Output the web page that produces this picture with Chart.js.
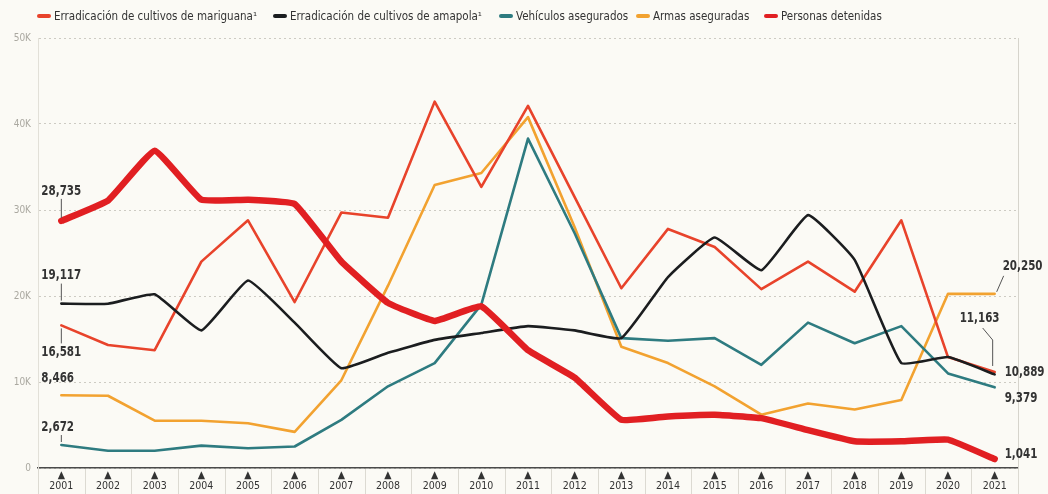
<!DOCTYPE html>
<html>
<head>
<meta charset="utf-8">
<script src="https://cdn.jsdelivr.net/npm/chart.js@4.4.1/dist/chart.umd.min.js"></script>
<style>
  html, body { margin: 0; padding: 0; background: #fbfaf5; }
  #wrap { position: relative; width: 1048px; height: 494px; }
  #legend {
    position: absolute; left: 0; top: 9px; width: 1048px; height: 14px;
    font: 11.5px "DejaVu Sans Condensed", sans-serif; color: #333;
  }
  .item { position: absolute; top: 0; display: flex; align-items: center; white-space: nowrap; }
  .item i { display: inline-block; width: 14px; height: 4px; border-radius: 2px; margin-right: 3px; }
</style>
</head>
<body>
<div id="wrap">
  <div id="legend"></div>
  <canvas id="chart" width="1048" height="494"></canvas>
</div>
<script>
const years = ["2001","2002","2003","2004","2005","2006","2007","2008","2009","2010","2011",
  "2012","2013","2014","2015","2016","2017","2018","2019","2020","2021"];

const seriesNames = [
  "Erradicación de cultivos de mariguana¹",
  "Erradicación de cultivos de amapola¹",
  "Vehículos asegurados",
  "Armas aseguradas",
  "Personas detenidas"
];

const mariguana = [16581, 14300, 13700, 24000, 28800, 19300, 29700, 29100, 42600, 32700, 42100,
  31500, 20900, 27800, 25700, 20800, 24000, 20500, 28800, 12900, 11163];
const amapola = [19117, 19100, 20200, 16000, 21800, 16900, 11600, 13400, 14900, 15700, 16500,
  16000, 15100, 22200, 26800, 23000, 29400, 24200, 12200, 12900, 10889];
const vehiculos = [2672, 2000, 2000, 2600, 2300, 2500, 5600, 9500, 12200, 19000, 38300,
  27300, 15100, 14800, 15100, 12000, 16900, 14500, 16500, 11000, 9379];
const armas = [8466, 8400, 5500, 5500, 5200, 4200, 10200, 21200, 32900, 34300, 40800,
  28000, 14100, 12200, 9500, 6200, 7500, 6800, 7900, 20250, 20250];
const personas = [28735, 31100, 36900, 31200, 31200, 30700, 24000, 19200, 17100, 18800, 13700,
  10500, 5600, 6000, 6200, 5800, 4400, 3100, 3100, 3300, 1041];

const yTicks = [0, 10000, 20000, 30000, 40000, 50000];

const allSeries = [mariguana, amapola, vehiculos, armas, personas];
const colors = ["#e8432b", "#1b1d1f", "#2e7b80", "#f2a230", "#e11f22"];
const widths = [2.6, 2.6, 2.6, 2.6, 6.5];
const tensions = [0, 0.12, 0, 0, 0.1];
// personas on top, then amapola, etc.
const drawOrder = [3, 1, 2, 4, 0];
const legendLeft = [37, 273, 499, 636, 764];

// value labels at first / last point: [series, index, dx, dy, leader]
const valueLabels = [
  [4, 0, -20, -30, [[0, -22], [0, -3]]],
  [1, 0, -20, -28, [[0, -20], [0, -3]]],
  [0, 0, -20, 27, [[0, 18], [0, 3]]],
  [3, 0, -20, -17, null],
  [2, 0, -20, -18, [[0, -10], [0, -3]]],
  [3, 20, 8, -27, [[2, -2], [9, -18]]],
  [0, 20, -35, -54, [[-12, -44], [-2, -32], [-2, -6]]],
  [1, 20, 10, -2, null],
  [2, 20, 10, 11, null],
  [4, 20, 10, -5, null]
];

// legend
const legendEl = document.getElementById("legend");
seriesNames.forEach((name, i) => {
  const it = document.createElement("span");
  it.className = "item";
  it.style.left = legendLeft[i] + "px";
  it.innerHTML = '<i style="background:' + colors[i] + '"></i>' + name;
  legendEl.appendChild(it);
});

const labelPlugin = {
  id: "valueLabels",
  afterDatasetsDraw(chart) {
    const { ctx, scales: { x, y } } = chart;
    ctx.save();
    ctx.strokeStyle = "#555";
    ctx.lineWidth = 1;
    valueLabels.forEach(([s, i, dx, dy, leader]) => {
      const v = allSeries[s][i];
      const px = x.getPixelForValue(i);
      const py = y.getPixelForValue(v);
      if (leader) {
        ctx.beginPath();
        leader.forEach(([lx, ly], k) => {
          if (k === 0) ctx.moveTo(px + lx, py + ly);
          else ctx.lineTo(px + lx, py + ly);
        });
        ctx.stroke();
      }
      // condensed look: squeeze text horizontally
      ctx.save();
      ctx.translate(px + dx, py + dy);
      ctx.scale(0.82, 1);
      ctx.font = 'bold 14px "DejaVu Sans Condensed", sans-serif';
      ctx.fillStyle = "#333";
      ctx.textAlign = "left";
      ctx.textBaseline = "middle";
      ctx.fillText(v.toLocaleString("en-US"), 0, 0);
      ctx.restore();
    });
    ctx.restore();
  },
  afterDraw(chart) {
    // separators between years under the axis
    const { ctx, scales: { x } } = chart;
    ctx.save();
    ctx.strokeStyle = "#dcdad2";
    ctx.lineWidth = 1;
    for (let i = 0; i <= years.length; i++) {
      const sx = Math.round(x.getPixelForValue(i - 0.5)) + 0.5;
      ctx.beginPath();
      ctx.moveTo(sx, x.top + 1);
      ctx.lineTo(sx, chart.height);
      ctx.stroke();
    }
    ctx.restore();
  }
};

const bgPlugin = {
  id: "bg",
  beforeDraw(chart) {
    const { ctx } = chart;
    ctx.save();
    ctx.fillStyle = "#fbfaf5";
    ctx.fillRect(0, 0, chart.width, chart.height);
    ctx.restore();
  }
};

new Chart(document.getElementById("chart"), {
  type: "line",
  data: {
    labels: years.map(y => ["▲", y]),
    datasets: allSeries.map((data, i) => ({
      label: seriesNames[i],
      data: data,
      borderColor: colors[i],
      backgroundColor: colors[i],
      borderWidth: widths[i],
      tension: tensions[i],
      pointRadius: 0,
      borderJoinStyle: "round",
      borderCapStyle: "round",
      order: drawOrder[i]
    }))
  },
  options: {
    responsive: false,
    animation: false,
    layout: { padding: { top: 38, right: 30, bottom: 0, left: 0 } },
    plugins: {
      legend: { display: false },
      tooltip: { enabled: false }
    },
    scales: {
      x: {
        offset: true,
        afterFit: (scale) => { scale.height = 26; },
        grid: { display: false },
        border: { color: "#4a4a4a", width: 1.5 },
        ticks: {
          padding: -6,
          maxRotation: 0,
          autoSkip: false,
          color: "#333",
          font: { size: 10.5, family: '"DejaVu Sans Condensed", sans-serif', lineHeight: 1.05 }
        }
      },
      y: {
        min: 0,
        max: 50000,
        afterFit: (scale) => { scale.width = 38; },
        afterBuildTicks: (scale) => { scale.ticks = yTicks.map(v => ({ value: v })); },
        grid: {
          drawTicks: false,
          color: "#cdcbc3",
          lineWidth: 1
        },
        border: { color: "#e2e0d8", dash: [2, 3] },
        ticks: {
          padding: 7,
          color: "#aaa8a0",
          font: { size: 10, family: '"DejaVu Sans Condensed", sans-serif' },
          callback: (v) => v === 0 ? "0" : (v / 1000) + "K"
        }
      },
      y2: {
        position: "right",
        min: 0,
        max: 50000,
        grid: { drawOnChartArea: false, drawTicks: false },
        border: { color: "#d6d4cc" },
        ticks: { display: false }
      }
    }
  },
  plugins: [bgPlugin, labelPlugin]
});
</script>
</body>
</html>
